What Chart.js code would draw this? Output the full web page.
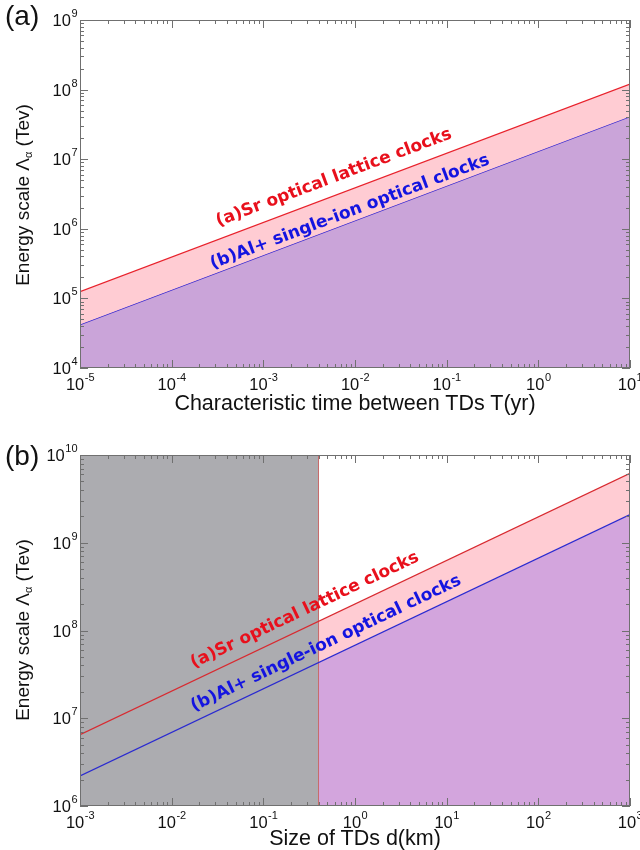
<!DOCTYPE html>
<html>
<head>
<meta charset="utf-8">
<script src="https://cdn.jsdelivr.net/npm/chart.js@4.4.0/dist/chart.umd.min.js"></script>
<style>
  body { margin: 0; background: #fff; width: 640px; height: 850px; position: relative; overflow: hidden;
         font-family: "Liberation Sans", Arial, sans-serif; color: #111; }
  canvas { position: absolute; left: 0; }
  #c1 { top: 0; }
  #c2 { top: 430px; }
  .lbl { position: absolute; white-space: nowrap; }
  .panel { font-size: 28px; left: 5px; }
  .ytitle { font-size: 19px; transform: translate(-50%, -50%) rotate(-90deg); }
  .xtitle { font-size: 21.5px; transform: translate(-50%, -50%); }
  sub { font-size: 11px; vertical-align: -3px; }
</style>
</head>
<body>
<canvas id="c1" width="640" height="430"></canvas>
<canvas id="c2" width="640" height="420"></canvas>

<div class="lbl panel" style="top:0px">(a)</div>
<div class="lbl ytitle" style="left:23px; top:195px">Energy scale &Lambda;<sub>&alpha;</sub> (Tev)</div>
<div class="lbl xtitle" style="left:355px; top:403px">Characteristic time between TDs T(yr)</div>

<div class="lbl panel" style="top:440px">(b)</div>
<div class="lbl ytitle" style="left:23px; top:630px">Energy scale &Lambda;<sub>&alpha;</sub> (Tev)</div>
<div class="lbl xtitle" style="left:355px; top:838px">Size of TDs d(km)</div>

<script>
// panel (a): characteristic time T (yr)
const timeX = [1e-5, 10];
const srTime = [1.25e5, 1.2e8];
const alTime = [4.2e4, 4.1e7];
const timeXExps = [-5, -4, -3, -2, -1, 0, 1];
const timeYExps = [4, 5, 6, 7, 8, 9];

// panel (b): size of TDs d (km)
const sizeX = [1e-3, 1e3];
const srSize = [6.5e6, 6.2e9];
const alSize = [2.2e6, 2.1e9];
const excludedX = [1e-3, 0.4];
const excludedY = [1e10, 1e10];
const edgeX = [0.4, 0.4];
const edgeY = [1e6, 1e10];
const sizeXExps = [-3, -2, -1, 0, 1, 2, 3];
const sizeYExps = [6, 7, 8, 9, 10];

const srLabel = '(a)Sr optical lattice clocks';
const alLabel = '(b)Al+ single-ion optical clocks';

const pts = (xs, ys) => xs.map((x, i) => ({ x: x, y: ys[i] }));

Chart.defaults.animation = false;
Chart.defaults.events = [];

function powLabel(ctx, e, x, y, align) {
    ctx.font = '16.5px "Liberation Sans", Arial, sans-serif';
    const w1 = ctx.measureText('10').width;
    ctx.font = '11px "Liberation Sans", Arial, sans-serif';
    const w2 = ctx.measureText(String(e)).width;
    const left = align === 'center' ? x - (w1 + w2) / 2 : x - w1 - w2;
    ctx.textAlign = 'left';
    ctx.textBaseline = 'alphabetic';
    ctx.font = '16.5px "Liberation Sans", Arial, sans-serif';
    ctx.fillText('10', left, y);
    ctx.font = '11px "Liberation Sans", Arial, sans-serif';
    ctx.fillText(String(e), left + w1 + 0.5, y - 9);
}

function logTicks(scale) {
    const out = [];
    const lo = Math.floor(Math.log10(scale.min)), hi = Math.ceil(Math.log10(scale.max));
    for (let e = lo; e <= hi; e++) {
        for (let k = 1; k <= 9; k++) {
            const v = k * Math.pow(10, e);
            if (v >= scale.min * 0.999 && v <= scale.max * 1.001) out.push({ v: v, major: k === 1 });
        }
    }
    return out;
}

// box, inward ticks and 10^n labels
function frame(xExps, yExps) {
    return {
        id: 'frame',
        afterDatasetsDraw(chart) {
            const { ctx, chartArea: a, scales: { x, y } } = chart;
            ctx.save();
            ctx.strokeStyle = '#707070';
            ctx.lineWidth = 1;
            ctx.strokeRect(a.left + 0.5, a.top + 0.5, a.right - a.left - 1, a.bottom - a.top - 1);
            ctx.beginPath();
            logTicks(x).forEach(t => {
                const px = Math.round(x.getPixelForValue(t.v)) + 0.5;
                const L = t.major ? 8 : 4;
                ctx.moveTo(px, a.bottom); ctx.lineTo(px, a.bottom - L);
                ctx.moveTo(px, a.top); ctx.lineTo(px, a.top + L);
            });
            logTicks(y).forEach(t => {
                const py = Math.round(y.getPixelForValue(t.v)) + 0.5;
                const L = t.major ? 8 : 4;
                ctx.moveTo(a.left, py); ctx.lineTo(a.left + L, py);
                ctx.moveTo(a.right, py); ctx.lineTo(a.right - L, py);
            });
            ctx.stroke();
            ctx.fillStyle = '#111';
            xExps.forEach(e => powLabel(ctx, e, x.getPixelForValue(Math.pow(10, e)), a.bottom + 22, 'center'));
            yExps.forEach(e => powLabel(ctx, e, a.left - 3, y.getPixelForValue(Math.pow(10, e)) + 6, 'right'));
            ctx.restore();
        }
    };
}

// rotated clock labels, angle taken from the Sr line
function clockText(items) {
    return {
        id: 'clockText',
        afterDatasetsDraw(chart) {
            const { ctx, scales: { x, y } } = chart;
            const d = chart.data.datasets[0].data;
            const ang = Math.atan2(y.getPixelForValue(d[1].y) - y.getPixelForValue(d[0].y),
                                   x.getPixelForValue(d[1].x) - x.getPixelForValue(d[0].x));
            items.forEach(it => {
                ctx.save();
                ctx.translate(x.getPixelForValue(it.x), y.getPixelForValue(it.y));
                ctx.rotate(ang);
                ctx.font = 'bold 17px "DejaVu Sans", Verdana, sans-serif';
                ctx.fillStyle = it.color;
                ctx.textAlign = 'center';
                ctx.textBaseline = 'middle';
                ctx.fillText(it.text, 0, 0);
                ctx.restore();
            });
        }
    };
}

function axes(xmin, xmax, ymin, ymax, xh) {
    return {
        x: { type: 'logarithmic', min: xmin, max: xmax, ticks: { display: false },
             grid: { display: false }, border: { display: false }, afterFit(s) { s.height = xh; } },
        y: { type: 'logarithmic', min: ymin, max: ymax, ticks: { display: false },
             grid: { display: false }, border: { display: false }, afterFit(s) { s.width = 80; } }
    };
}

const line = (data, color, extra) => Object.assign({
    data: data, borderColor: color, borderWidth: 1.3, pointRadius: 0, tension: 0, fill: false
}, extra || {});

// (a)
new Chart(document.getElementById('c1'), {
    type: 'line',
    data: {
        datasets: [
            line(pts(timeX, srTime), '#e8222c', { fill: '+1', backgroundColor: '#ffccd3' }),
            line(pts(timeX, alTime), '#3b2bd0', { fill: 'start', backgroundColor: '#caa4d9' })
        ]
    },
    options: {
        responsive: false,
        layout: { padding: { top: 20, right: 10, left: 0, bottom: 0 } },
        plugins: { legend: { display: false }, tooltip: { enabled: false } },
        scales: axes(1e-5, 10, 1e4, 1e9, 62)
    },
    plugins: [frame(timeXExps, timeYExps), clockText([
        { text: srLabel, x: 5.9e-3, y: 5.4e6, color: '#e8101c' },
        { text: alLabel, x: 8.8e-3, y: 1.74e6, color: '#1414e0' }
    ])]
});

// (b)
new Chart(document.getElementById('c2'), {
    type: 'line',
    data: {
        datasets: [
            line(pts(sizeX, srSize), '#d82a30'),
            line(pts(sizeX, alSize), '#2a2ad0'),
            line(pts(edgeX, edgeY), '#c86a6a', { borderWidth: 1 }),
            line(pts(excludedX, excludedY), 'rgba(0,0,0,0)', { borderWidth: 0, fill: 'start', backgroundColor: '#acacb0' }),
            line(pts(sizeX, srSize), 'rgba(0,0,0,0)', { borderWidth: 0, fill: '+1', backgroundColor: '#ffccd3' }),
            line(pts(sizeX, alSize), 'rgba(0,0,0,0)', { borderWidth: 0, fill: 'start', backgroundColor: '#d3a5dd' })
        ]
    },
    options: {
        responsive: false,
        layout: { padding: { top: 25, right: 10, left: 0, bottom: 0 } },
        plugins: { legend: { display: false }, tooltip: { enabled: false } },
        scales: axes(1e-3, 1e3, 1e6, 1e10, 44)
    },
    plugins: [frame(sizeXExps, sizeYExps), clockText([
        { text: srLabel, x: 0.284, y: 1.7e8, color: '#e8101c' },
        { text: alLabel, x: 0.483, y: 7.1e7, color: '#1414e0' }
    ])]
});
</script>
</body>
</html>
